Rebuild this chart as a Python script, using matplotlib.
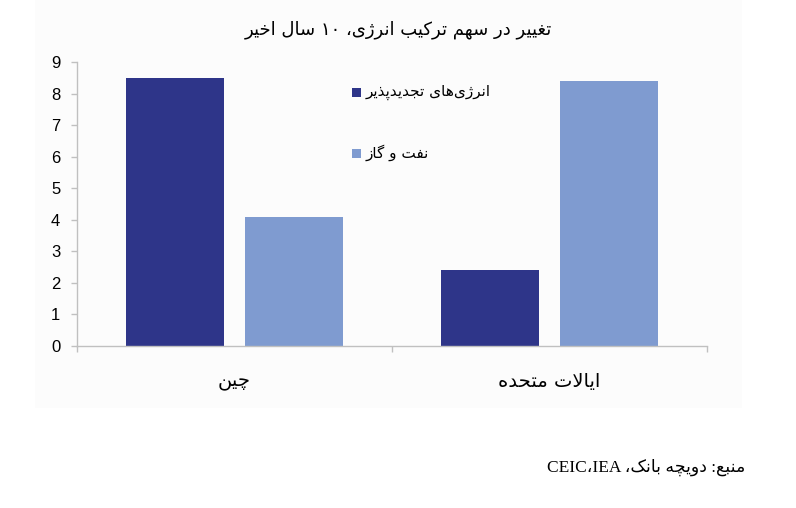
import matplotlib
matplotlib.use("Agg")
import matplotlib.pyplot as plt
from matplotlib.patches import Rectangle
import numpy as np

# ---------------- data ----------------
title = "تغییر در سهم ترکیب انرژی، ۱۰ سال اخیر"
categories = ["چین", "ایالات متحده"]
series_names = ["انرژی‌های تجدیدپذیر", "نفت و گاز"]
renewables = [8.5, 2.4]
oil_gas = [4.1, 8.4]
y_ticks = [0, 1, 2, 3, 4, 5, 6, 7, 8, 9]
source = "منبع: دویچه بانک، IEA،CEIC"

# ---------------- minimal Persian shaping (presentation forms + visual order) ----------------
DUAL = {
    '\u0628': (0xFE8F, 0xFE90, 0xFE91, 0xFE92),
    '\u062A': (0xFE95, 0xFE96, 0xFE97, 0xFE98),
    '\u062B': (0xFE99, 0xFE9A, 0xFE9B, 0xFE9C),
    '\u062C': (0xFE9D, 0xFE9E, 0xFE9F, 0xFEA0),
    '\u062D': (0xFEA1, 0xFEA2, 0xFEA3, 0xFEA4),
    '\u062E': (0xFEA5, 0xFEA6, 0xFEA7, 0xFEA8),
    '\u0633': (0xFEB1, 0xFEB2, 0xFEB3, 0xFEB4),
    '\u0634': (0xFEB5, 0xFEB6, 0xFEB7, 0xFEB8),
    '\u0639': (0xFEC9, 0xFECA, 0xFECB, 0xFECC),
    '\u063A': (0xFECD, 0xFECE, 0xFECF, 0xFED0),
    '\u0641': (0xFED1, 0xFED2, 0xFED3, 0xFED4),
    '\u0642': (0xFED5, 0xFED6, 0xFED7, 0xFED8),
    '\u06A9': (0xFB8E, 0xFB8F, 0xFB90, 0xFB91),
    '\u06AF': (0xFB92, 0xFB93, 0xFB94, 0xFB95),
    '\u0644': (0xFEDD, 0xFEDE, 0xFEDF, 0xFEE0),
    '\u0645': (0xFEE1, 0xFEE2, 0xFEE3, 0xFEE4),
    '\u0646': (0xFEE5, 0xFEE6, 0xFEE7, 0xFEE8),
    '\u0647': (0xFEE9, 0xFEEA, 0xFEEB, 0xFEEC),
    '\u06CC': (0xFBFC, 0xFBFD, 0xFBFE, 0xFBFF),
    '\u067E': (0xFB56, 0xFB57, 0xFB58, 0xFB59),
    '\u0686': (0xFB7A, 0xFB7B, 0xFB7C, 0xFB7D),
}
RIGHT = {
    '\u0627': (0xFE8D, 0xFE8E),
    '\u0622': (0xFE81, 0xFE82),
    '\u062F': (0xFEA9, 0xFEAA),
    '\u0630': (0xFEAB, 0xFEAC),
    '\u0631': (0xFEAD, 0xFEAE),
    '\u0632': (0xFEAF, 0xFEB0),
    '\u0648': (0xFEED, 0xFEEE),
    '\u0698': (0xFB8A, 0xFB8B),
}


def shape(s):
    out = []
    i = 0
    n = len(s)
    prev_joins = False
    while i < n:
        c = s[i]
        nxt = s[i + 1] if i + 1 < n else ''
        if c == '\u0644' and nxt == '\u0627':
            out.append(chr(0xFEFC if prev_joins else 0xFEFB))
            prev_joins = False
            i += 2
            continue
        if c in DUAL:
            nj = nxt in DUAL or nxt in RIGHT
            f = DUAL[c]
            if prev_joins and nj:
                out.append(chr(f[3]))
            elif prev_joins:
                out.append(chr(f[1]))
            elif nj:
                out.append(chr(f[2]))
            else:
                out.append(chr(f[0]))
            prev_joins = nj
        elif c in RIGHT:
            f = RIGHT[c]
            out.append(chr(f[1] if prev_joins else f[0]))
            prev_joins = False
        elif c == '\u200C':
            prev_joins = False
        else:
            out.append(c)
            prev_joins = False
        i += 1
    return out


def is_ltr(ch):
    return (ch.isascii() and ch.isalnum()) or ('\u06F0' <= ch <= '\u06F9')


def rtl(s):
    chars = shape(s)
    runs = []
    for ch in chars:
        if is_ltr(ch) and runs and runs[-1][0]:
            runs[-1][1].append(ch)
        else:
            runs.append((is_ltr(ch), [ch]))
    return ''.join(''.join(r[1]) for r in reversed(runs))


# ---------------- figure ----------------
fig = plt.figure(figsize=(7.96, 5.08), dpi=100)
fig.patch.set_facecolor('white')
bg = Rectangle((35 / 796, 1 - 408 / 508), (742 - 35) / 796, 408 / 508,
               transform=fig.transFigure, facecolor='#fcfcfc',
               edgecolor='none', zorder=-10)
fig.add_artist(bg)

ax = fig.add_axes([77 / 796, 1 - 346 / 508, (707 - 77) / 796, (346 - 62) / 508])
ax.set_facecolor('none')
ax.set_zorder(1)

dark = '#2e3589'
light = '#7f9bd0'
x = np.arange(len(categories))
w = 0.311
off = 0.1875
ax.bar(x - off, renewables, width=w, color=dark, zorder=2)
ax.bar(x + off, oil_gas, width=w, color=light, zorder=2)

ax.set_xlim(-0.5, 1.5)
ax.set_ylim(0, 9)
ax.set_yticks(y_ticks)
ax.set_yticklabels([str(t) for t in y_ticks], fontsize=12, family='Liberation Sans')

ax.set_xticks([-0.5, 0.5, 1.5])
ax.set_xticklabels([])
ax.set_xticks(x, minor=True)
ax.set_xticklabels([rtl(c) for c in categories], minor=True, fontsize=14,
                   family='DejaVu Sans')
ax.tick_params(axis='x', which='minor', length=0, pad=19)
ax.tick_params(axis='x', which='major', length=4, color='#c0c0c0', width=1)
ax.tick_params(axis='y', length=4, color='#c0c0c0', width=1, pad=8)

for side in ['top', 'right']:
    ax.spines[side].set_visible(False)
for side in ['left', 'bottom']:
    ax.spines[side].set_color('#c0c0c0')
    ax.spines[side].set_linewidth(1)

# legend (manual, like the reference)
leg_items = [(series_names[0], dark, 1 - 92 / 508), (series_names[1], light, 1 - 153 / 508)]
for name, col, yy in leg_items:
    fig.add_artist(Rectangle((352 / 796, yy - 4.5 / 508), 9 / 796, 9 / 508,
                             transform=fig.transFigure, facecolor=col,
                             edgecolor='none', zorder=3))
    fig.text(366 / 796, yy, rtl(name), ha='left', va='center', fontsize=11,
             family='DejaVu Sans', zorder=3)

fig.text(398 / 796, 1 - 30 / 508, rtl(title), ha='center', va='center', fontsize=13,
         family='DejaVu Sans')

fig.text(745 / 796, 1 - 467 / 508, rtl(source), ha='right', va='center', fontsize=12.5,
         family=['Liberation Serif', 'DejaVu Sans'])

fig.savefig('out.png', dpi=100)
